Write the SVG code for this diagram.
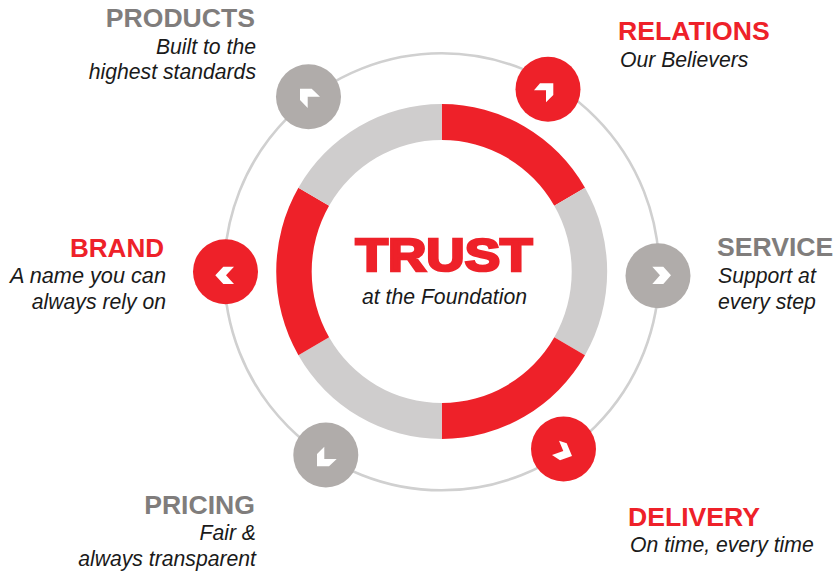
<svg xmlns="http://www.w3.org/2000/svg" width="836" height="572" viewBox="0 0 836 572">
<style>
text{font-family:"Liberation Sans",Arial,sans-serif}
.h{font-weight:bold;font-size:26.6px}
.s{font-style:italic;font-size:21.2px;fill:#1a1a1a}
.e{text-anchor:end}
.r{fill:#EE2129}
.g{fill:#B0ACAA}
.lg{fill:#CFCDCD}
.hg{fill:#807D7C}
.c{fill:#fff}
</style>
<rect width="836" height="572" fill="#fff"/>
<g id="connectors">
<ellipse cx="441.700" cy="271.800" rx="217.500" ry="218.500" fill="none" stroke="#D0D0D0" stroke-width="2.600"/>
</g>
<g id="ring">
<path class="r" d="M441.700 104A165.500 167.500 0 0 1 585 187.750L554.300 205.750A130 131.500 0 0 0 441.700 140Z"/>
<path class="lg" d="M585 187.750A165.500 167.500 0 0 1 585 355.250L554.300 337.250A130 131.500 0 0 0 554.300 205.750Z"/>
<path class="r" d="M585 355.250A165.500 167.500 0 0 1 441.700 439L441.700 403A130 131.500 0 0 0 554.300 337.250Z"/>
<path class="lg" d="M441.700 439A165.500 167.500 0 0 1 298.400 355.250L329.100 337.250A130 131.500 0 0 0 441.700 403Z"/>
<path class="r" d="M298.400 355.250A165.500 167.500 0 0 1 298.400 187.750L329.100 205.750A130 131.500 0 0 0 329.100 337.250Z"/>
<path class="lg" d="M298.400 187.750A165.500 167.500 0 0 1 441.700 104L441.700 140A130 131.500 0 0 0 329.100 205.750Z"/>
</g>
<g id="center">
<text x="355.500" y="270.500" font-size="46" font-weight="bold" class="r" stroke="#EE2129" stroke-width="2.600" textLength="177" lengthAdjust="spacingAndGlyphs">TRUST</text>
<text x="444.500" y="303.500" text-anchor="middle" class="s">at the Foundation</text>
</g>
<g id="products">
<circle class="g" cx="308.500" cy="96.700" r="32.500"/>
<polygon class="c" points="300,88.700 311.700,88.700 320,96.700 307.700,96.700 307.700,108 300,100"/>
<text class="h hg e" x="255" y="27">PRODUCTS</text>
<text class="s e" x="256" y="54">Built to the</text>
<text class="s e" x="256" y="79">highest standards</text>
</g>
<g id="relations">
<circle class="r" cx="548" cy="89.300" r="32.500"/>
<polygon class="c" points="534,90.300 540,83.300 553.300,83.300 553.300,95 546,102.300 546,90.300"/>
<text class="h r" x="618" y="40">RELATIONS</text>
<text class="s" x="620" y="67">Our Believers</text>
</g>
<g id="service">
<circle class="g" cx="658" cy="275.800" r="32.500"/>
<polygon class="c" points="652.300,266.700 663.300,266.700 671,275.300 663.300,284 652.300,284 660,275.300"/>
<text class="h hg" x="717" y="256">SERVICE</text>
<text class="s" x="718" y="283">Support at</text>
<text class="s" x="718" y="309">every step</text>
</g>
<g id="delivery">
<circle class="r" cx="563.500" cy="449" r="32.500"/>
<polygon class="c" points="559,440.700 566.700,443.300 572,456 560,460.300 552,455 563.300,451"/>
<text class="h r" x="628" y="526">DELIVERY</text>
<text class="s" x="630" y="552">On time, every time</text>
</g>
<g id="pricing">
<circle class="g" cx="325.800" cy="455" r="32.500"/>
<polygon class="c" points="324.300,446.700 317,454 317,466.300 329,466.300 336.700,459 324.300,459"/>
<text class="h hg e" x="255" y="514">PRICING</text>
<text class="s e" x="256" y="540">Fair &amp;</text>
<text class="s e" x="256" y="566">always transparent</text>
</g>
<g id="brand">
<circle class="r" cx="225.500" cy="271.700" r="32.500"/>
<polygon class="c" points="234,266.700 223.300,266.700 215.300,275.300 223.300,284 234,284 226,275.300"/>
<text class="h r" x="70" y="257" textLength="94" lengthAdjust="spacingAndGlyphs">BRAND</text>
<text class="s" x="10" y="283" textLength="156" lengthAdjust="spacingAndGlyphs">A name you can</text>
<text class="s e" x="166" y="309">always rely on</text>
</g>
</svg>
